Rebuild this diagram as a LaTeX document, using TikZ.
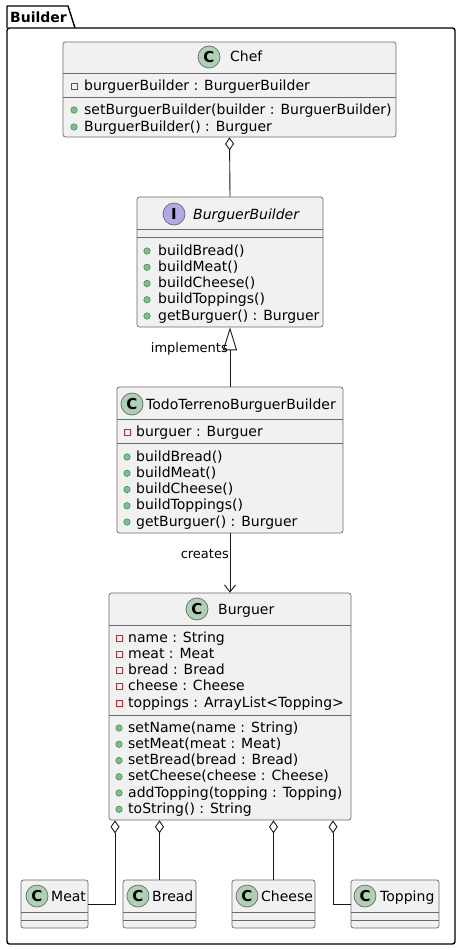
\documentclass[tikz,border=0pt]{standalone}
\usepackage{fontspec}
\setmainfont{DejaVu Sans}
\usetikzlibrary{arrows.meta}
\definecolor{boxfill}{HTML}{F1F1F1}
\definecolor{boxline}{HTML}{6A6A6A}
\definecolor{connline}{HTML}{181818}
\definecolor{cfill}{HTML}{ADD1B2}
\definecolor{ifill}{HTML}{B4A7E5}
\definecolor{privred}{HTML}{C82930}
\definecolor{pubfill}{HTML}{84BE84}
\definecolor{publine}{HTML}{038048}
\begin{document}
\begin{tikzpicture}[x=1pt,y=-1pt,
  classbox/.style={draw=boxline, line width=0.7pt, fill=boxfill, rounded corners=2.5pt, inner sep=0pt},
  divline/.style={draw=boxline, line width=0.7pt},
  mem/.style={anchor=west, inner sep=0pt, font=\fontsize{14}{16}\selectfont, text height=12pt, text depth=2pt},
  ttl/.style={mem},
  ccirc/.style={circle, draw=boxline, line width=0.7pt, fill=cfill, minimum size=22pt, inner sep=0pt, font=\fontsize{15}{15}\selectfont\bfseries},
  icirc/.style={ccirc, fill=ifill},
  pubicon/.style={circle, fill=pubfill, draw=publine, line width=0.4pt, minimum size=6.5pt, inner sep=0pt},
  privicon/.style={rectangle, draw=privred, line width=0.8pt, minimum size=6pt, inner sep=0pt},
  conn/.style={draw=connline, line width=0.9pt},
  agg/.style={conn, -{Diamond[open, length=13pt, width=9pt, line width=0.9pt]}},
  lbl/.style={anchor=east, inner sep=0pt, font=\fontsize{13}{15}\selectfont, text height=11pt, text depth=1.5pt}
]
\useasboundingbox (0,0) rectangle (461,950);

% package
\draw[line width=1.4pt, line join=round] (7,28) -- (7,6) -- (68,6) -- (75,28);
\draw[line width=1.4pt, rounded corners=2.5pt] (7,28) -- (455,28) -- (455,944) -- (7,944) -- cycle;
\node[anchor=west, inner sep=0pt, font=\fontsize{14}{16}\selectfont\bfseries] (pkg) at (10,17) {Builder};

% Chef
\node[classbox, minimum width=333pt, minimum height=95pt] (chef) at (229.5,89.5) {};
\draw[divline] (chef.west |- 0,73) -- (chef.east |- 0,73);
\draw[divline] (chef.west |- 0,97) -- (chef.east |- 0,97);
\node[ccirc] (chefc) at (209,57) {C};
\node[ttl] (cheft) at (230,57) {Chef};
\node[privicon] (chefi0) at (74,86) {};
\node[mem] (chefa0) at (84,85) {burguerBuilder : BurguerBuilder};
\node[pubicon] (chefi1) at (74,110) {};
\node[mem] (chefm0) at (84,109) {setBurguerBuilder(builder : BurguerBuilder)};
\node[pubicon] (chefi2) at (74,127) {};
\node[mem] (chefm1) at (84,126) {BurguerBuilder() : Burguer};

% BurguerBuilder
\node[classbox, minimum width=186pt, minimum height=130pt] (bb) at (230,262) {};
\draw[divline] (bb.west |- 0,229) -- (bb.east |- 0,229);
\draw[divline] (bb.west |- 0,237) -- (bb.east |- 0,237);
\node[icirc] (bbc) at (174,214) {I};
\node[ttl, font=\fontsize{14}{16}\selectfont\itshape] (bbt) at (193,214) {BurguerBuilder};
\foreach \t [count=\i from 0] in {{buildBread()},{buildMeat()},{buildCheese()},{buildToppings()},{getBurguer() : Burguer}}{
  \node[pubicon] (bbi\i) at (147,{251+16.25*\i}) {};
  \node[mem] (bbm\i) at (158,{250+16.25*\i}) {\t};
}

% TodoTerrenoBurguerBuilder
\node[classbox, minimum width=226pt, minimum height=146pt] (tt) at (230,460) {};
\draw[divline] (tt.west |- 0,419) -- (tt.east |- 0,419);
\draw[divline] (tt.west |- 0,443) -- (tt.east |- 0,443);
\node[ccirc] (ttc) at (132,404) {C};
\node[ttl] (ttt) at (146,404) {TodoTerrenoBurguerBuilder};
\node[privicon] (tta) at (127,432) {};
\node[mem] (ttat) at (136,431) {burguer : Burguer};
\foreach \t [count=\i from 0] in {{buildBread()},{buildMeat()},{buildCheese()},{buildToppings()},{getBurguer() : Burguer}}{
  \node[pubicon] (tti\i) at (127,{457+16.25*\i}) {};
  \node[mem] (ttm\i) at (136,{456+16.25*\i}) {\t};
}

% Burguer
\node[classbox, minimum width=242pt, minimum height=227pt] (bu) at (230,706.5) {};
\draw[divline] (bu.west |- 0,625) -- (bu.east |- 0,625);
\draw[divline] (bu.west |- 0,715) -- (bu.east |- 0,715);
\node[ccirc] (buc) at (197,609) {C};
\node[ttl] (but) at (218,609) {Burguer};
\foreach \t [count=\i from 0] in {{name : String},{meat : Meat},{bread : Bread},{cheese : Cheese},{toppings : ArrayList<Topping>}}{
  \node[privicon] (bua\i) at (119,{638+16.25*\i}) {};
  \node[mem] (buat\i) at (128,{637+16.25*\i}) {\t};
}
\foreach \t [count=\i from 0] in {{setName(name : String)},{setMeat(meat : Meat)},{setBread(bread : Bread)},{setCheese(cheese : Cheese)},{addTopping(topping : Topping)},{toString() : String}}{
  \node[pubicon] (bum\i) at (119,{728+16.25*\i}) {};
  \node[mem] (bumt\i) at (128,{727+16.25*\i}) {\t};
}

% small classes
\node[classbox, minimum width=67pt, minimum height=48pt] (meat) at (54.5,904) {};
\node[classbox, minimum width=73pt, minimum height=48pt] (bread) at (159.5,904) {};
\node[classbox, minimum width=83pt, minimum height=48pt] (cheese) at (273.5,904) {};
\node[classbox, minimum width=88pt, minimum height=48pt] (topping) at (395,904) {};
\foreach \n in {meat,bread,cheese,topping}{
  \draw[divline] (\n.west |- 0,912) -- (\n.east |- 0,912);
  \draw[divline] (\n.west |- 0,920) -- (\n.east |- 0,920);
}
\node[ccirc] (meatc) at (37,896) {C};
\node[ttl] (meatt) at (51,896) {Meat};
\node[ccirc] (breadc) at (138,896) {C};
\node[ttl] (breadt) at (152,896) {Bread};
\node[ccirc] (cheesec) at (247,896) {C};
\node[ttl] (cheeset) at (261,896) {Cheese};
\node[ccirc] (toppingc) at (365,896) {C};
\node[ttl] (toppingt) at (380,896) {Topping};

% connectors
\draw[agg] (bb.north) -- (chef.south);
\draw[conn, -{Triangle[open, length=23pt, width=14pt, line width=0.9pt]}] (tt.north) -- (bb.south);
\node[lbl] (impl) at (228,348) {implements};
\draw[conn, -{Straight Barb[length=7pt, width=11pt, line width=0.9pt]}] (tt.south) -- (bu.north);
\node[lbl] (creates) at (229,554) {creates};
\coordinate (am) at (bu.south -| 115,0);
\coordinate (ab) at (bu.south -| bread.north);
\coordinate (ac) at (bu.south -| cheese.north);
\coordinate (at) at (bu.south -| 333,0);
\draw[agg] (meat.east) -| (am);
\draw[agg] (bread.north) -- (ab);
\draw[agg] (cheese.north) -- (ac);
\draw[agg] (topping.west) -| (at);
\end{tikzpicture}
\end{document}
